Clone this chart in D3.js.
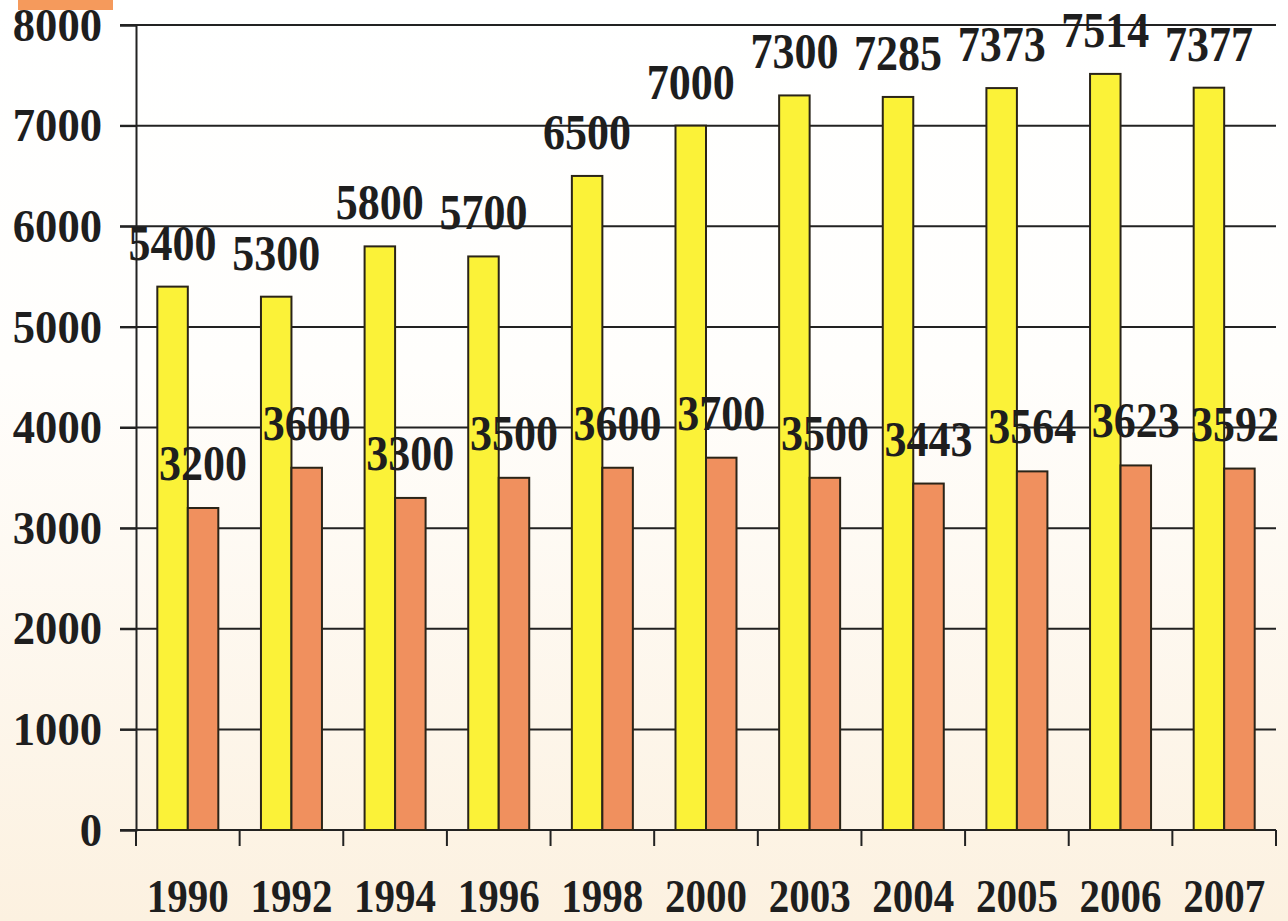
<!DOCTYPE html>
<html>
<head>
<meta charset="utf-8">
<script src="https://cdn.jsdelivr.net/npm/d3@7"></script>
<style>
  html, body { margin: 0; padding: 0; background: #fff; }
  svg { display: block; }
  text { font-family: "Liberation Serif", "Times New Roman", serif; font-weight: bold; fill: #1e1e1e; }
</style>
</head>
<body>
<div id="chart"></div>
<script>
const years = ["1990", "1992", "1994", "1996", "1998", "2000", "2003", "2004", "2005", "2006", "2007"];
const seriesA = [5400, 5300, 5800, 5700, 6500, 7000, 7300, 7285, 7373, 7514, 7377];
const seriesB = [3200, 3600, 3300, 3500, 3600, 3700, 3500, 3443, 3564, 3623, 3592];
const yTicks = [0, 1000, 2000, 3000, 4000, 5000, 6000, 7000, 8000];

const W = 1288, H = 921;
const plotLeft = 136, plotRight = 1276, plotTop = 25, plotBottom = 830;

// squeeze the digits a little, like the condensed type of the original
let digitLen = function (d, per) {
    return String(d).length * per;
}
// keep a label inside the page on the right
let clampX = function (cx, d, per) {
    return Math.min(cx, W - 3 - digitLen(d, per) / 2);
}

const svg = d3.select("#chart").append("svg")
    .attr("width", W)
    .attr("height", H);

// background fades from white to cream
const grad = svg.append("defs").append("linearGradient")
    .attr("id", "bg").attr("x1", 0).attr("y1", 0).attr("x2", 0).attr("y2", 1);
grad.append("stop").attr("offset", "0%").attr("stop-color", "#ffffff");
grad.append("stop").attr("offset", "40%").attr("stop-color", "#fffefc");
grad.append("stop").attr("offset", "100%").attr("stop-color", "#fcf1e0");
svg.append("rect").attr("width", W).attr("height", H).attr("fill", "url(#bg)");

// little orange tab in the corner
svg.append("rect")
    .attr("x", 18).attr("y", 0).attr("width", 95).attr("height", 10)
    .attr("fill", "#f59a5c");

const x = d3.scaleBand().domain(years).range([plotLeft, plotRight]).paddingInner(0).paddingOuter(0);
const y = d3.scaleLinear().domain([0, 8000]).range([plotBottom, plotTop]);
const barW = 30.5;

// gridlines
svg.append("g")
    .selectAll("line")
    .data(yTicks.filter(d => d > 0))
    .join("line")
    .attr("x1", 120).attr("x2", plotRight)
    .attr("y1", d => y(d)).attr("y2", d => y(d))
    .attr("stroke", "#222").attr("stroke-width", 2);

// y axis
const yAxis = svg.append("g")
    .attr("transform", `translate(${plotLeft},0)`)
    .call(d3.axisLeft(y).tickValues(yTicks).tickSize(16).tickPadding(18).tickFormat(d3.format("d")));
yAxis.select(".domain").attr("stroke", "#222").attr("stroke-width", 2);
yAxis.selectAll(".tick line").attr("stroke", "#222").attr("stroke-width", 2);
yAxis.selectAll(".tick text")
    .attr("font-size", 46)
    .attr("textLength", d => digitLen(d, 22.3))
    .attr("lengthAdjust", "spacingAndGlyphs")
    .attr("dy", "0.33em")
    .attr("fill", "#1e1e1e");

// x axis with ticks between categories
const xAxis = svg.append("g")
    .attr("transform", `translate(0,${plotBottom})`);
xAxis.append("line")
    .attr("x1", 120).attr("x2", plotRight)
    .attr("stroke", "#222").attr("stroke-width", 2);
xAxis.selectAll("line.tk")
    .data(years.concat(["end"]))
    .join("line")
    .attr("class", "tk")
    .attr("x1", (d, i) => plotLeft + i * x.step())
    .attr("x2", (d, i) => plotLeft + i * x.step())
    .attr("y1", 0).attr("y2", 16)
    .attr("stroke", "#222").attr("stroke-width", 2);
xAxis.selectAll("text")
    .data(years)
    .join("text")
    .attr("x", d => x(d) + x.bandwidth() / 2)
    .attr("y", 82)
    .attr("text-anchor", "middle")
    .attr("font-size", 47)
    .attr("textLength", d => digitLen(d, 20.5))
    .attr("lengthAdjust", "spacingAndGlyphs")
    .text(d => d);

// bars
const bars = svg.append("g");
bars.selectAll("rect.a")
    .data(seriesA)
    .join("rect")
    .attr("class", "a")
    .attr("x", (d, i) => x(years[i]) + x.bandwidth() / 2 - barW)
    .attr("y", d => y(d))
    .attr("width", barW)
    .attr("height", d => plotBottom - y(d))
    .attr("fill", "#fbf238")
    .attr("stroke", "#2a2418").attr("stroke-width", 2);
bars.selectAll("rect.b")
    .data(seriesB)
    .join("rect")
    .attr("class", "b")
    .attr("x", (d, i) => x(years[i]) + x.bandwidth() / 2)
    .attr("y", d => y(d))
    .attr("width", barW)
    .attr("height", d => plotBottom - y(d))
    .attr("fill", "#f0905e")
    .attr("stroke", "#2a2418").attr("stroke-width", 2);

// value labels
const labels = svg.append("g");
labels.selectAll("text.a")
    .data(seriesA)
    .join("text")
    .attr("class", "a")
    .attr("x", (d, i) => clampX(x(years[i]) + x.bandwidth() / 2 - barW / 2, d, 25))
    .attr("y", d => y(d) - 27)
    .attr("text-anchor", "middle")
    .attr("font-size", 50)
    .attr("textLength", d => digitLen(d, 22))
    .attr("lengthAdjust", "spacingAndGlyphs")
    .text(d => d);
labels.selectAll("text.b")
    .data(seriesB)
    .join("text")
    .attr("class", "b")
    .attr("x", (d, i) => clampX(x(years[i]) + x.bandwidth() / 2 + barW / 2, d, 25))
    .attr("y", d => y(d) - 28)
    .attr("text-anchor", "middle")
    .attr("font-size", 50)
    .attr("textLength", d => digitLen(d, 22))
    .attr("lengthAdjust", "spacingAndGlyphs")
    .text(d => d);
</script>
</body>
</html>
